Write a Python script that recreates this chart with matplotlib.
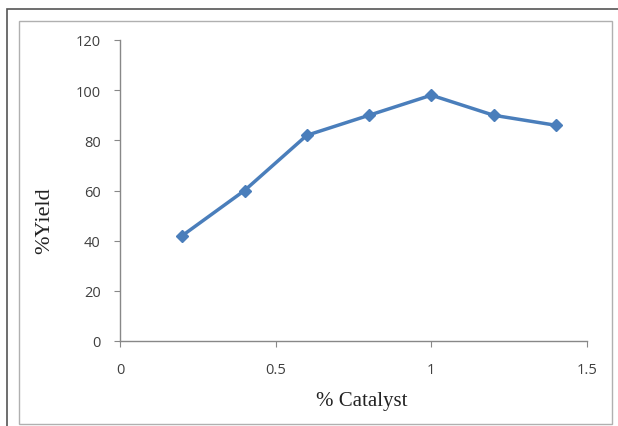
import matplotlib
matplotlib.use("Agg")
import matplotlib.pyplot as plt
from matplotlib.patches import Rectangle

catalyst = [0.2, 0.4, 0.6, 0.8, 1.0, 1.2, 1.4]
yield_pct = [42, 60, 82, 90, 98, 90, 86]
x_ticks = [0, 0.5, 1, 1.5]
x_tick_labels = ["0", "0.5", "1", "1.5"]
y_ticks = [0, 20, 40, 60, 80, 100, 120]

W, H = 618, 427
fig = plt.figure(figsize=(W / 100, H / 100), dpi=100)

# outer dark frame and inner light frame
fig.patches.append(Rectangle((7 / W, -0.01), 1.0, 1 - 10 / H + 0.01, transform=fig.transFigure,
                             fill=False, edgecolor="#555555", linewidth=1.2))
fig.patches.append(Rectangle((19 / W, 2.5 / H), (612 - 19) / W, (405 - 2.5) / H, transform=fig.transFigure,
                             fill=False, edgecolor="#b0b0b0", linewidth=1.0))

ax = fig.add_axes([120 / W, (H - 342) / H, (587 - 120) / W, (342 - 41) / H])
ax.plot(catalyst, yield_pct, color="#4a7ebb", linewidth=2.5, marker="D", markersize=6,
        markerfacecolor="#4a7ebb", markeredgecolor="#4a7ebb")

ax.set_xlim(0, 1.5)
ax.set_ylim(0, 120)
ax.set_xticks(x_ticks)
ax.set_xticklabels(x_tick_labels)
ax.set_yticks(y_ticks)
for s in ["top", "right"]:
    ax.spines[s].set_visible(False)
for s in ["left", "bottom"]:
    ax.spines[s].set_color("#888888")
    ax.spines[s].set_linewidth(1.0)
ax.tick_params(axis="both", direction="out", length=4, color="#888888",
               labelsize=10.5, labelcolor="#404040")
ax.tick_params(axis="x", pad=11)
ax.tick_params(axis="y", pad=10)
for lbl in ax.get_xticklabels() + ax.get_yticklabels():
    lbl.set_family("Open Sans")

ax.set_xlabel("% Catalyst", fontsize=15, family="Liberation Serif", color="#222222", va="center")
ax.set_ylabel("%Yield", fontsize=16, family="Liberation Serif", color="#222222", va="center")
ax.xaxis.set_label_coords((362 - 120) / 467, (342 - 402) / 301)
ax.yaxis.set_label_coords((45 - 120) / 467, (342 - 221) / 301)

fig.savefig("out.png", dpi=100)
